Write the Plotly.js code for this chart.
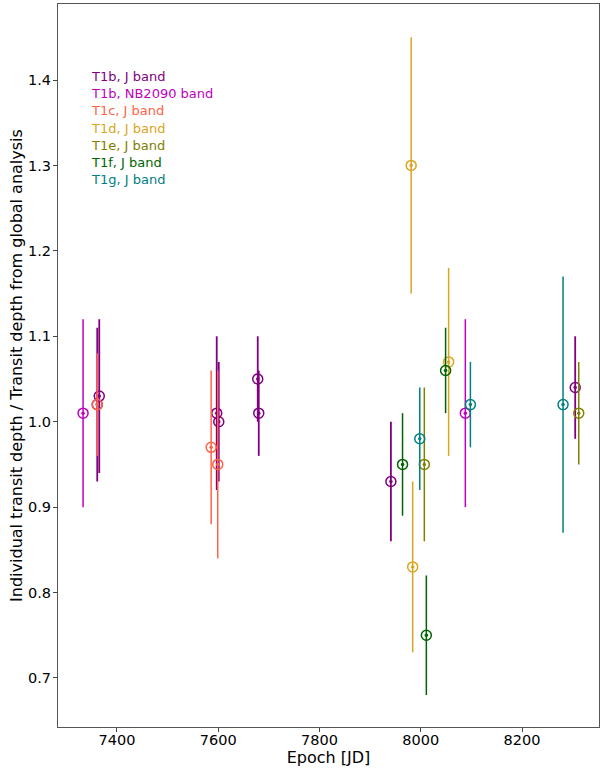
<!DOCTYPE html>
<html>
<head>
<meta charset="utf-8">
<script src="https://cdn.plot.ly/plotly-3.0.1.min.js"></script>
<style>html,body{margin:0;padding:0;background:#fff;}#chart{width:601px;height:769px;}</style>
</head>
<body>
<div id="chart"></div>
<script>
// Data
const seriesNames = ["T1b, J band", "T1b, NB2090 band", "T1c, J band", "T1d, J band", "T1e, J band", "T1f, J band", "T1g, J band"];
const seriesColors = ["#800080", "#bf00bf", "#ff6347", "#daa520", "#808000", "#006400", "#008080"];

const t1bJ_epoch = [7365, 7361, 7597, 7601, 7678, 7680, 7941, 8305];
const t1bJ_depth = [1.03, 1.02, 1.01, 1.00, 1.05, 1.01, 0.93, 1.04];
const t1bJ_err   = [0.09, 0.09, 0.09, 0.07, 0.05, 0.05, 0.07, 0.06];

const t1bNB_epoch = [7333, 8088];
const t1bNB_depth = [1.01, 1.01];
const t1bNB_err   = [0.11, 0.11];

const t1c_epoch = [7361, 7586, 7599];
const t1c_depth = [1.02, 0.97, 0.95];
const t1c_err   = [0.06, 0.09, 0.11];

const t1d_epoch = [7981, 7984, 8055];
const t1d_depth = [1.30, 0.83, 1.07];
const t1d_err   = [0.15, 0.10, 0.11];

const t1e_epoch = [8007, 8312];
const t1e_depth = [0.95, 1.01];
const t1e_err   = [0.09, 0.06];

const t1f_epoch = [7964, 8011, 8049];
const t1f_depth = [0.95, 0.75, 1.06];
const t1f_err   = [0.06, 0.07, 0.05];

const t1g_epoch = [7998, 8098, 8281];
const t1g_depth = [0.98, 1.02, 1.02];
const t1g_err   = [0.06, 0.05, 0.15];

const xTicks = [7400, 7600, 7800, 8000, 8200];
const yTicks = [0.7, 0.8, 0.9, 1.0, 1.1, 1.2, 1.3, 1.4];

const allSeries = [
  [t1bJ_epoch, t1bJ_depth, t1bJ_err],
  [t1bNB_epoch, t1bNB_depth, t1bNB_err],
  [t1c_epoch, t1c_depth, t1c_err],
  [t1d_epoch, t1d_depth, t1d_err],
  [t1e_epoch, t1e_depth, t1e_err],
  [t1f_epoch, t1f_depth, t1f_err],
  [t1g_epoch, t1g_depth, t1g_err]
];

const traces = [];
allSeries.forEach((s, i) => {
  traces.push({
    type: "scatter",
    mode: "markers",
    name: seriesNames[i],
    x: s[0], y: s[1],
    error_y: {type: "data", array: s[2], visible: true, color: seriesColors[i], thickness: i === 0 ? 1.8 : 1.5, width: 0},
    marker: {symbol: "circle-open", size: 10, color: seriesColors[i], line: {width: 1.5, color: seriesColors[i]}},
    showlegend: false
  });
  traces.push({
    type: "scatter",
    mode: "markers",
    name: seriesNames[i] + " centre",
    x: s[0], y: s[1],
    marker: {symbol: "circle", size: 3.5, color: seriesColors[i]},
    showlegend: false
  });
});

const annotations = seriesNames.map((n, i) => ({
  xref: "paper", yref: "paper",
  x: (89 - 58) / 541, y: 1 - (76.5 + i * 17.2 - 4) / 723,
  xanchor: "left", yanchor: "middle",
  text: n, showarrow: false,
  font: {family: "DejaVu Sans", size: 13, color: seriesColors[i]}
}));

const layout = {
  width: 601, height: 769,
  margin: {l: 58, r: 2, t: 4, b: 42},
  paper_bgcolor: "#fff", plot_bgcolor: "#fff",
  font: {family: "DejaVu Sans", color: "#000"},
  xaxis: {
    range: [7283.5, 8352],
    tickvals: xTicks, ticktext: xTicks.map(String),
    ticks: "outside", ticklen: 4, tickcolor: "#444",
    showline: true, linecolor: "#555", linewidth: 1, mirror: true,
    showgrid: false, zeroline: false,
    tickfont: {size: 14.5},
    ticklabelstandoff: -4,
    title: {text: "Epoch [JD]", font: {size: 16}, standoff: 0}
  },
  yaxis: {
    range: [0.6426, 1.489],
    tickvals: yTicks, ticktext: yTicks.map(v => v.toFixed(1)),
    ticks: "outside", ticklen: 4, tickcolor: "#444",
    showline: true, linecolor: "#555", linewidth: 1, mirror: true,
    showgrid: false, zeroline: false,
    tickfont: {size: 14.5},
    ticklabelstandoff: -1,
    title: {text: "Individual transit depth / Transit depth from global analysis", font: {size: 16}, standoff: 1}
  },
  annotations: annotations,
  showlegend: false
};

Plotly.newPlot("chart", traces, layout, {displayModeBar: false, staticPlot: true});
</script>
</body>
</html>
